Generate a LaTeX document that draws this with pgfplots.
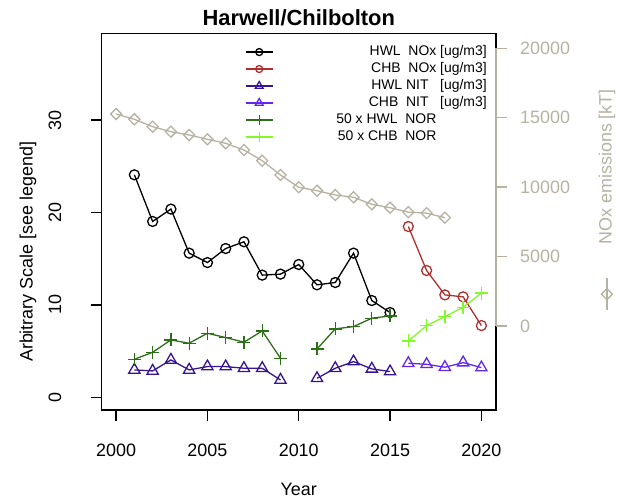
\documentclass[border=0pt]{standalone}
\usepackage{fontspec}
\setmainfont{Liberation Sans}
\usepackage{pgfplots}
\pgfplotsset{compat=1.18}
\usetikzlibrary{plotmarks}

\definecolor{chbred}{RGB}{176,48,48}
\definecolor{hwlnit}{RGB}{55,20,145}
\definecolor{chbnit}{RGB}{100,40,235}
\definecolor{hwlnor}{RGB}{45,110,25}
\definecolor{chbnor}{RGB}{130,250,40}
\definecolor{emis}{RGB}{182,178,162}

\begin{document}
\begin{tikzpicture}
\useasboundingbox (0,0) rectangle (617bp,498bp);

\pgfplotsset{
  common/.style={
    at={(101.5bp,88bp)}, anchor=south west,
    scale only axis, width=394.5bp, height=376.7bp,
    xmin=1999.2, xmax=2020.8,
    tick align=outside, major tick length=11bp,
    tick label style={font=\fontsize{18}{18}\selectfont},
    /pgf/number format/assume math mode=true,
    /pgf/number format/1000 sep={},
    label style={font=\fontsize{18}{18}\selectfont},
  },
}

%% left axis: concentrations
\begin{axis}[
  common,
  ymin=-1.38, ymax=39.4,
  axis line style={line width=1.5bp, black},
  every tick/.style={black, line width=1.3bp},
  xtick={2000,2005,...,2020}, ytick={0,10,20,30},
  xtick pos=bottom, ytick pos=left,
  xticklabel style={anchor=north, inner sep=0pt},
  yticklabel style={xshift=-13.5bp, rotate=90, anchor=south, inner sep=0pt},
  xticklabel shift=22.5bp, yticklabel shift=15.5bp,
  xlabel={Year},
  xlabel style={at={(rel axis cs:0.5,0)}, anchor=center, yshift=-79bp},
  ylabel={Arbitrary Scale [see legend]},
  ylabel style={at={([xshift=-73.5bp]rel axis cs:0,0.42)}, anchor=center},
  title={Harwell/Chilbolton},
  title style={at={(rel axis cs:0.5,1)}, anchor=center, yshift=9.8bp,
    font=\bfseries\fontsize{22}{22}\selectfont},
  unbounded coords=jump,
  legend cell align=right,
  legend image code/.code={\draw[mark repeat=2, mark phase=2, #1,
    every mark/.append style={scale=0.7}]
    plot coordinates {(0bp,0bp) (13.5bp,0bp) (27bp,0bp)};},
  legend style={draw=none, fill=none, inner sep=0pt,
    at={(rel axis cs:0.977,0.968)}, anchor=north east,
    font=\fontsize{14}{14}\selectfont, row sep=4bp,
    nodes={inner sep=0pt, text height=10bp, text depth=3bp},
    /tikz/every odd column/.append style={column sep=63bp}},
]
\addplot[black, line width=1.3bp, mark=o, mark size=5bp] coordinates {
  (2001,24.08) (2002,19.03) (2003,20.37) (2004,15.6) (2005,14.58)
  (2006,16.1) (2007,16.83) (2008,13.22) (2009,13.33) (2010,14.37)
  (2011,12.17) (2012,12.42) (2013,15.6) (2014,10.47) (2015,9.17)};
\addlegendentry{HWL\ \ NOx [ug/m3]}
\addplot[chbred, line width=1.3bp, mark=o, mark size=5bp] coordinates {
  (2016,18.48) (2017,13.72) (2018,11.08) (2019,10.87) (2020,7.76)};
\addlegendentry{CHB\ \ NOx [ug/m3]}
\addplot[hwlnit, line width=1.3bp, mark=triangle, mark size=6.5bp] coordinates {
  (2001,2.96) (2002,2.85) (2003,4.04) (2004,2.96) (2005,3.32)
  (2006,3.32) (2007,3.14) (2008,3.14) (2009,1.87) (2010,nan)
  (2011,2.05) (2012,3.14) (2013,3.86) (2014,3.07) (2015,2.78)};
\addlegendentry{HWL NIT\ \ \ [ug/m3]}
\addplot[chbnit, line width=1.3bp, mark=triangle, mark size=6.5bp] coordinates {
  (2016,3.68) (2017,3.57) (2018,3.25) (2019,3.75) (2020,3.21)};
\addlegendentry{CHB\ \ NIT\ \ \ [ug/m3]}
\addplot[hwlnor, line width=1.3bp, mark=+, mark size=6.5bp] coordinates {
  (2001,4.11) (2002,4.87) (2003,6.2) (2004,5.85) (2005,6.93)
  (2006,6.46) (2007,5.96) (2008,7.18) (2009,4.22) (2010,nan)
  (2011,5.23) (2012,7.4) (2013,7.65) (2014,8.56) (2015,8.8)};
\addlegendentry{50 x HWL\ \ NOR\hphantom{\ [ug/m3]}}
\addplot[chbnor, line width=1.3bp, mark=+, mark size=6.5bp] coordinates {
  (2016,6.1) (2017,7.76) (2018,8.73) (2019,9.75) (2020,11.27)};
\addlegendentry{50 x CHB\ \ NOR\hphantom{\ [ug/m3]}}
\end{axis}

%% right axis: NOx emissions
\begin{axis}[
  common,
  ymin=-6050, ymax=21080,
  axis x line=none, axis y line*=right,
  y axis line style={draw=none},
  clip=false,
  ytick={0,5000,...,20000},
  scaled y ticks=false,
  every tick/.style={emis, line width=1.3bp},
  yticklabel style={emis, anchor=west, inner sep=0pt},
  yticklabel shift=13bp,
  ylabel={\tikz[baseline=-0.5ex]{\draw[emis, line width=1.3bp] (0bp,0bp) -- (32bp,0bp);
      \draw[emis, line width=1.3bp, fill=white] (16bp,-5.5bp) -- (21.5bp,0bp) -- (16bp,5.5bp) -- (10.5bp,0bp) -- cycle;
      \draw[emis, line width=1.3bp] (10.5bp,0bp) -- (21.5bp,0bp);}\hspace{33bp}NOx emissions [kT]},
  ylabel style={emis, at={([xshift=111bp]rel axis cs:1,0.5575)}, anchor=center, rotate=0},
]
\addplot[emis, line width=1.5bp, forget plot] coordinates {(2020.8,0) (2020.8,20000)};
\addplot[emis, line width=1.3bp, mark=square, mark size=3.9bp, mark options={rotate=45}] coordinates {
  (2000,15268) (2001,14886) (2002,14354) (2003,13994) (2004,13756)
  (2005,13446) (2006,13158) (2007,12676) (2008,11905) (2009,10875)
  (2010,9989) (2011,9744) (2012,9435) (2013,9269) (2014,8765)
  (2015,8520) (2016,8200) (2017,8130) (2018,7800)};
\end{axis}
\end{tikzpicture}
\end{document}
